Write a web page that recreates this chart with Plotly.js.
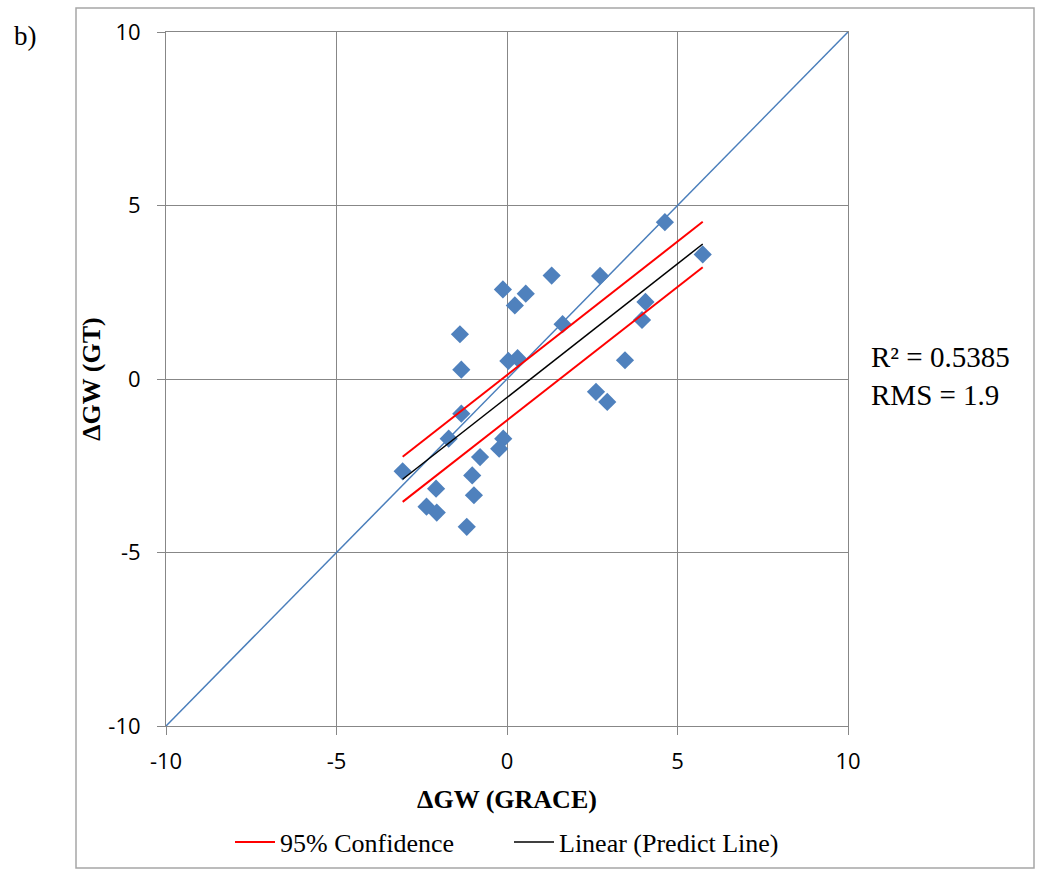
<!DOCTYPE html>
<html>
<head>
<meta charset="utf-8">
<script src="https://cdn.plot.ly/plotly-3.0.1.min.js"></script>
<style>
  html, body { margin: 0; padding: 0; background: #ffffff; }
  #chart { width: 1038px; height: 871px; }
</style>
</head>
<body>
<div id="chart"></div>
<script>
// Groundwater storage change: GRACE estimate vs ground truth (GT) wells
const graceX = [4.63, 5.74, 1.31, 2.73, -0.12, 0.55, 0.23, 4.06, 3.96, 1.63,
                -1.38, 0.04, 0.31, 3.46, -1.34, 2.61, 2.94, -1.34, -1.71, -0.11,
                -0.23, -0.79, -3.06, -1.02, -2.08, -0.97, -2.36, -2.06, -1.18];
const gtY    = [4.52, 3.59, 2.98, 2.97, 2.58, 2.46, 2.12, 2.22, 1.70, 1.58,
                1.29, 0.52, 0.60, 0.54, 0.27, -0.37, -0.66, -1.00, -1.72, -1.72,
                -2.01, -2.25, -2.66, -2.78, -3.16, -3.35, -3.68, -3.85, -4.26];

// 1:1 reference line
const oneToOneX = [-10, 10];
const oneToOneY = [-10, 10];

// Linear prediction line and its 95% confidence band
const fitX = [-3.06, 5.74];
const fitY = [-2.89, 3.89];
const ciUpperY = [-2.24, 4.53];
const ciLowerY = [-3.54, 3.22];

const axisTicks = [-10, -5, 0, 5, 10];
const statsText = ['R² = 0.5385', 'RMS = 1.9'];

const gridColor = '#878787';
const blue = '#4a7ebb';
const serif = '"Liberation Serif", "Times New Roman", serif';

const traces = [
  {
    x: oneToOneX, y: oneToOneY, mode: 'lines', showlegend: false,
    line: { color: blue, width: 1.5 }, hoverinfo: 'skip'
  },
  {
    x: graceX, y: gtY, mode: 'markers', showlegend: false,
    marker: { symbol: 'diamond', size: 14, color: '#4f81bd',
              line: { width: 0 } }
  },
  {
    x: fitX, y: ciUpperY, mode: 'lines', name: '95% Confidence',
    legendgroup: 'ci', line: { color: '#ff0000', width: 2 }
  },
  {
    x: fitX, y: ciLowerY, mode: 'lines', name: '95% Confidence',
    legendgroup: 'ci', showlegend: false, line: { color: '#ff0000', width: 2 }
  },
  {
    x: fitX, y: fitY, mode: 'lines', name: 'Linear (Predict Line)',
    line: { color: '#000000', width: 1.5 }
  }
];

const axisCommon = {
  range: [-10, 10],
  tickvals: axisTicks,
  ticktext: axisTicks.map(String),
  showgrid: true, gridcolor: gridColor, gridwidth: 1,
  zeroline: false,
  showline: true, linecolor: gridColor, linewidth: 1, mirror: true,
  ticks: 'outside', ticklen: 8, tickcolor: gridColor, tickwidth: 1,
  tickfont: { family: '"Open Sans", Lato, sans-serif', size: 22, color: '#000' },
  fixedrange: true, automargin: false
};

const layout = {
  width: 1038, height: 871,
  margin: { l: 166, r: 190, t: 32, b: 145, autoexpand: false },
  paper_bgcolor: '#ffffff', plot_bgcolor: '#ffffff',
  showlegend: true,
  xaxis: Object.assign({}, axisCommon, {
    ticklabelstandoff: 8,
    title: { text: 'ΔGW (GRACE)', standoff: 15,
             font: { family: serif, size: 26, color: '#000', weight: 'bold' } }
  }),
  yaxis: Object.assign({}, axisCommon, {
    ticklabelstandoff: 12,
    title: { text: 'ΔGW (GT)', standoff: 0,
             font: { family: serif, size: 26, color: '#000', weight: 'bold' } }
  }),
  legend: {
    orientation: 'h', x: (230 - 166) / 682, xanchor: 'left', y: (726 - 842) / 694, yanchor: 'middle',
    font: { family: serif, size: 26, color: '#000' },
    bgcolor: 'rgba(0,0,0,0)', itemwidth: 40, tracegroupgap: 0,
    entrywidth: 224, entrywidthmode: 'pixels'
  },
  annotations: [
    { xref: 'paper', yref: 'paper', x: 1.031, y: (726 - 357) / 694, xanchor: 'left', yanchor: 'middle',
      text: statsText[0], showarrow: false,
      font: { family: serif, size: 29, color: '#000' } },
    { xref: 'paper', yref: 'paper', x: 1.031, y: (726 - 395) / 694, xanchor: 'left', yanchor: 'middle',
      text: statsText[1], showarrow: false,
      font: { family: serif, size: 29, color: '#000' } },
    { xref: 'paper', yref: 'paper', x: -0.226, y: (726 - 36) / 694, xanchor: 'left', yanchor: 'middle',
      text: 'b)', showarrow: false,
      font: { family: serif, size: 27, color: '#000' } }
  ],
  shapes: [
    // outer chart frame
    { type: 'rect', xref: 'paper', yref: 'paper',
      x0: (76 - 166) / 682, x1: (1034 - 166) / 682,
      y0: (726 - 868) / 694, y1: (726 - 8) / 694,
      line: { color: '#a6a6a6', width: 1.5 }, fillcolor: 'rgba(0,0,0,0)', layer: 'below' }
  ]
};

Plotly.newPlot('chart', traces, layout, { displayModeBar: false, staticPlot: true });
</script>
</body>
</html>
